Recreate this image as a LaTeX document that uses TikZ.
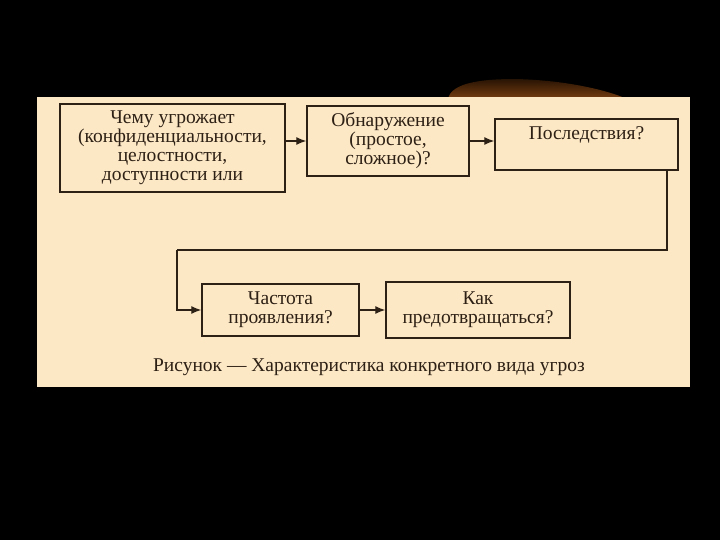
\documentclass[tikz,border=0pt]{standalone}
\usepackage{fontspec}
\setmainfont{Liberation Serif}
\usetikzlibrary{arrows.meta, positioning}
\definecolor{panelbg}{RGB}{253,232,198}
\definecolor{boxline}{RGB}{45,32,20}
\definecolor{glowtop}{RGB}{40,20,4}
\definecolor{glowbot}{RGB}{115,60,16}

\begin{document}
\begin{tikzpicture}[x=1pt, y=-1pt,
    every node/.style={font=\fontsize{19.5}{19}\selectfont, text=boxline},
    box/.style={draw=boxline, line width=1.4pt, fill=panelbg, align=center, inner sep=0pt},
    link/.style={-{Latex[length=10pt, width=8pt]}, line width=1.3pt, draw=boxline}]
    \useasboundingbox (0,0) rectangle (720,540);
    \fill[black] (0,0) rectangle (720,540);
    % brown arc behind the panel
    \shade[top color=glowtop, bottom color=glowbot] (448,98) .. controls (452,86) and (470,79) .. (515,79) .. controls (560,80) and (600,88) .. (625,98) -- cycle;
    \fill[panelbg] (37,97) rectangle (690,387);

    \node[box, minimum width=225pt, minimum height=88pt] (threat) at (172.5,148) {Чему угрожает\\(конфиденциальности,\\целостности,\\доступности или};
    \node[box, minimum width=162pt, minimum height=70pt] (detect) at (388,141) {Обнаружение\\(простое,\\сложное)?};
    \node[box, minimum width=183pt, minimum height=51pt, text height=13pt, text depth=22pt] (conseq) at (586.5,144.5) {Последствия?};
    \node[box, minimum width=157pt, minimum height=52pt] (freq) at (280.5,310) {Частота\\проявления?};
    \node[box, minimum width=184pt, minimum height=56pt] (prevent) at (478,310) {Как\\предотвращаться?};
    \node (caption) at (369,367) {Рисунок — Характеристика конкретного вида угроз};

    \coordinate (turnA) at (667,250);
    \coordinate (turnB) at (177,250);
    \draw[link] (threat.east |- detect) -- (detect);
    \draw[link] (detect) -- (detect -| conseq.west);
    \draw[line width=1.3pt, draw=boxline] (conseq.south -| turnA) -- (turnA) -- (turnB);
    \draw[link] (turnB) |- (freq.west);
    \draw[link] (freq) -- (freq -| prevent.west);
\end{tikzpicture}
\end{document}
